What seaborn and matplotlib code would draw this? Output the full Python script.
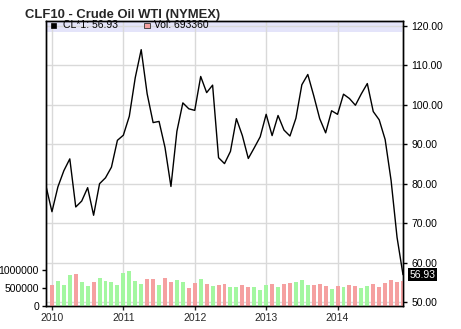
import matplotlib
matplotlib.use("Agg")
import matplotlib.pyplot as plt
import matplotlib.transforms as mtransforms
from matplotlib.patches import Rectangle
import numpy as np
import pandas as pd
import seaborn as sns

# ---------------- data ----------------
price_months = pd.period_range("2009-12", "2014-12", freq="M")
price = [79.4, 72.9, 79.2, 83.3, 86.3, 74.1, 75.6, 79.0, 72.0, 80.0, 81.5, 84.2,
         91.0, 92.3, 97.1, 106.9, 114.0, 102.8, 95.5, 95.8, 89.2, 79.3, 93.3, 100.5,
         99.0, 98.6, 107.2, 103.1, 105.0, 86.6, 85.1, 88.2, 96.5, 92.2, 86.4, 89.1,
         91.9, 97.6, 92.2, 97.3, 93.6, 92.1, 96.6, 105.1, 107.7, 102.3, 96.5, 92.9,
         98.5, 97.6, 102.7, 101.6, 99.9, 102.8, 105.4, 98.3, 96.2, 91.2, 80.8, 66.4,
         56.93]

vol_months = pd.period_range("2010-01", "2014-12", freq="M")
volume = [569000, 679000, 569000, 843000, 871000, 651000, 541000, 651000, 761000, 679000,
          651000, 569000, 898000, 953000, 679000, 596000, 734000, 734000, 569000, 761000,
          651000, 706000, 651000, 486000, 624000, 734000, 596000, 541000, 569000, 596000,
          514000, 514000, 569000, 514000, 514000, 431000, 569000, 596000, 514000, 596000,
          624000, 651000, 706000, 569000, 569000, 596000, 541000, 459000, 541000, 514000,
          569000, 541000, 486000, 541000, 596000, 514000, 624000, 706000, 651000, 693360]

year_labels = ["2010", "2011", "2012", "2013", "2014"]
price_ticks = [50, 60, 70, 80, 90, 100, 110, 120]
vol_ticks = [0, 500000, 1000000]
title = "CLF10 - Crude Oil WTI (NYMEX)"
last_price = price[-1]
last_vol = volume[-1]

# ---------------- derived ----------------
origin = pd.Period("2010-01", freq="M")
px = np.array([(p - origin).n for p in price_months])
vx = np.array([(p - origin).n for p in vol_months])
direction = ["up" if price[i + 1] >= price[i] else "down" for i in range(len(vx))]
df_price = pd.DataFrame({"m": px, "price": price})
df_vol = pd.DataFrame({"m": vx, "vol": volume, "dir": direction})
year_pos = [(pd.Period(f"{y}-01", freq="M") - origin).n for y in year_labels]

# ---------------- style ----------------
sns.set_style("white")
plt.rcParams["font.family"] = ["Liberation Sans", "DejaVu Sans"]

GREEN = "#a3f7a0"
PINK = "#f5a0a0"
GRID = "#d9d9d9"
BAND = "#e4e4fa"

W, H = 461, 329
fig = plt.figure(figsize=(W / 100, H / 100), dpi=100)
L, R, T, B = 46, 403, 20.5, 306
ax_p = fig.add_axes([L / W, (H - B) / H, (R - L) / W, (B - T) / H])
ax_v = ax_p.twinx()

# price axis (base layer, holds grid and line)
ax_p.set_xlim(-1, 59)
ax_p.set_ylim(48.99, 121.39)
ax_p.set_axisbelow(True)
ax_p.set_xticks(year_pos)
ax_p.set_xticklabels(year_labels)
ax_p.set_yticks(price_ticks)
ax_p.set_yticklabels([f"{t:.2f}" for t in price_ticks])
ax_p.grid(True, color=GRID, lw=1)
ax_p.yaxis.tick_right()
ax_p.tick_params(axis="y", which="both", right=True, left=False, length=3,
                 width=1, pad=3, labelsize=7.5, colors="black")
ax_p.tick_params(axis="x", bottom=True, length=3, width=1, pad=2, labelsize=7.5)

# legend band
ax_p.add_patch(Rectangle((0, 0.9587), 0.9963, 0.0413, transform=ax_p.transAxes,
                         facecolor=BAND, edgecolor="none", zorder=0.2))

sns.lineplot(data=df_price, x="m", y="price", ax=ax_p, color="black", lw=1,
             estimator=None, zorder=3)

# volume axis (on top, transparent)
sns.barplot(data=df_vol, x="m", y="vol", hue="dir", palette={"up": GREEN, "down": PINK},
            native_scale=True, dodge=False, width=0.67, linewidth=0, errorbar=None,
            saturation=1, legend=False, ax=ax_v)
ax_v.set_xlim(-1, 59)
ax_v.set_ylim(0, 285.5 / 36.4 * 1e6)
ax_v.set_yticks(vol_ticks)
ax_v.set_yticklabels([str(t) for t in vol_ticks])
ax_v.yaxis.tick_left()
ax_v.tick_params(axis="y", left=True, right=False, length=3, width=1, pad=2,
                 labelsize=7.5, colors="black")
ax_v.grid(False)

for a in (ax_p, ax_v):
    a.set_xlabel("")
    a.set_ylabel("")
    for s in a.spines.values():
        s.set_visible(True)
        s.set_color("black")
        s.set_linewidth(1)

# last price label
tr = mtransforms.blended_transform_factory(ax_p.transAxes, ax_p.transData)
ax_p.text(1.018, last_price, f"{last_price:.2f}", transform=tr, color="white",
          fontsize=7.5, ha="left", va="center",
          bbox=dict(boxstyle="square,pad=0.12", facecolor="black", edgecolor="none"),
          clip_on=False)

# legend entries (drawn on the top axes so nothing covers them)
ax_v.add_patch(Rectangle((0.0132, 0.9737), 0.0148, 0.0186, transform=ax_v.transAxes,
                         facecolor="black", edgecolor="black", lw=0.5, zorder=4))
ax_v.text(0.0485, 0.9828, f"CL*1: {last_price:.2f}", transform=ax_v.transAxes,
          fontsize=7.5, va="center", ha="left", color="black", zorder=4)
ax_v.add_patch(Rectangle((0.2754, 0.9737), 0.0159, 0.0186, transform=ax_v.transAxes,
                         facecolor=PINK, edgecolor="#333333", lw=0.6, zorder=4))
ax_v.text(0.3034, 0.9828, f"Vol: {last_vol}", transform=ax_v.transAxes,
          fontsize=7.5, va="center", ha="left", color="black", zorder=4)

fig.text(25 / W, (H - 18) / H, title, fontsize=9.4, fontweight="bold",
         ha="left", va="baseline")

fig.savefig("out.png", dpi=100)
